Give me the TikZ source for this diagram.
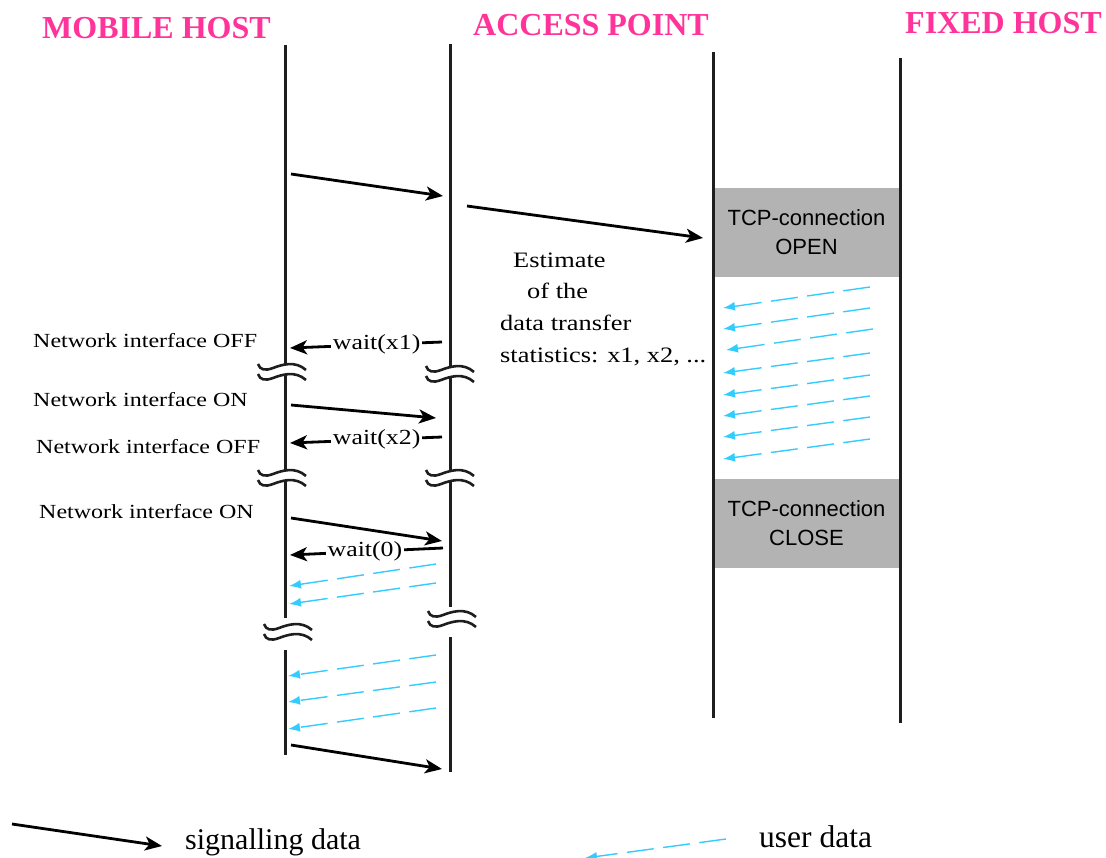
\documentclass[tikz,border=0pt]{standalone}
\usepackage{fontspec}
\setmainfont{Liberation Serif}
\newfontfamily\lblfont[FakeStretch=1.2]{Liberation Serif}
\newfontfamily\hdrfont{Liberation Serif}
\newfontfamily\tcpfont{Liberation Sans}
\usetikzlibrary{arrows.meta}
\definecolor{hdrpink}{RGB}{255,51,153}
\definecolor{usercyan}{RGB}{51,204,255}
\definecolor{boxgray}{RGB}{179,179,179}
\definecolor{lifeclr}{RGB}{30,30,30}
\tikzset{
  brk/.pic={
    \draw[line width=2.6pt,lifeclr] (-27,-6) .. controls (-25,0) and (-20,1) .. (-12,-2) .. controls (-4,-5) and (10,-10) .. (21,0);
    \draw[line width=2.6pt,lifeclr] (-27,4) .. controls (-25,10) and (-20,11) .. (-12,8) .. controls (-4,5) and (10,0) .. (21,10);
  }
}
\begin{document}
\begin{tikzpicture}[x=1pt,y=-1pt,
  life/.style={line width=3pt, lifeclr},
  sig/.style={line width=2.8pt, black, -{Stealth[length=17pt,width=14pt,inset=4.5pt]}},
  usr/.style={usercyan, line width=1.4pt, dash pattern=on 27pt off 9.5pt, -{Latex[length=12pt,width=9pt]}},
  hdr/.style={font=\hdrfont\bfseries\fontsize{32}{36}\selectfont, text=hdrpink, inner sep=0pt, anchor=base west},
  lbl/.style={font=\lblfont\fontsize{20}{24}\selectfont, inner sep=0pt, anchor=base west},
  estlbl/.style={font=\lblfont\fontsize{22}{26}\selectfont, inner sep=0pt, anchor=base west},
  waitlbl/.style={font=\lblfont\fontsize{21.5}{24}\selectfont, fill=white, inner sep=1.5pt},
  tcpbox/.style={fill=boxgray, minimum width=187pt, minimum height=89pt, inner sep=0pt, align=center, font=\tcpfont\fontsize{22}{29}\selectfont},
  legtxt/.style={inner sep=0pt, anchor=base west},
]
\useasboundingbox (0,0) rectangle (1106,857);
\clip (0,0) rectangle (1106,857);

% headers
\node[hdr] (hmh) at (42,38) {MOBILE HOST};
\node[hdr] (hap) at (473,35) {ACCESS POINT};
\node[hdr] (hfh) at (905,33) {FIXED HOST};

% gray boxes
\node[tcpbox] (open) at (806.5,232.5) {TCP-connection\\OPEN};
\node[tcpbox] (close) at (806.5,523.5) {TCP-connection\\CLOSE};

% lifelines
\draw[life] (285,45) -- (285,364.5);
\draw[life] (285,374.5) -- (285,470.5);
\draw[life] (285,480.5) -- (285,618);
\draw[life] (285,650) -- (285,755);
\draw[life] (450,44) -- (450,366.5);
\draw[life] (450,376.5) -- (450,470.5);
\draw[life] (450,480.5) -- (450,607);
\draw[life] (450,637) -- (450,772);
\draw[life] (713,52) -- (713,718);
\draw[life] (900,58) -- (900,723);

% breaks
\pic at (285,370) {brk};
\pic at (285,476) {brk};
\pic at (291,630) {brk};
\pic at (453,372) {brk};
\pic at (453,476) {brk};
\pic at (455,617) {brk};

% left labels
\node[lbl] (l1) at (33,347) {Network interface OFF};
\node[lbl] (l2) at (33,406) {Network interface ON};
\node[lbl] (l3) at (36,453) {Network interface OFF};
\node[lbl] (l4) at (39,518) {Network interface ON};

% estimate text
\node[estlbl] (e1) at (513,267) {Estimate};
\node[estlbl] (e2) at (527,298) {of the};
\node[estlbl] (e3) at (500,330) {data transfer};
\node[estlbl] (e4) at (500,362) {statistics: x1, x2, ...};

% signalling endpoints
\coordinate (s1a) at (291,174); \coordinate (s1b) at (443,196);
\coordinate (s2a) at (467,206); \coordinate (s2b) at (703,238);
\coordinate (w1a) at (442,342); \coordinate (w1b) at (290,348);
\coordinate (s3a) at (291,405); \coordinate (s3b) at (436,418);
\coordinate (w2a) at (442,437); \coordinate (w2b) at (290,443);
\coordinate (s4a) at (291,518); \coordinate (s4b) at (442,541);
\coordinate (w3a) at (443,548); \coordinate (w3b) at (290,555);
\coordinate (s5a) at (291,745); \coordinate (s5b) at (442,769);
\coordinate (lga) at (12,824); \coordinate (lgb) at (162,846);

\draw[sig] (s1a) -- (s1b);
\draw[sig] (s2a) -- (s2b);
\draw[sig] (w1a) -- node[waitlbl,pos=0.43] (wl1) {wait(x1)} (w1b);
\draw[sig] (s3a) -- (s3b);
\draw[sig] (w2a) -- node[waitlbl,pos=0.43] (wl2) {wait(x2)} (w2b);
\draw[sig] (s4a) -- (s4b);
\draw[sig] (w3a) -- node[waitlbl,pos=0.51] (wl3) {wait(0)} (w3b);
\draw[sig] (s5a) -- (s5b);
\draw[sig] (lga) -- (lgb);

% user data between MH and AP
\coordinate (u1a) at (436,564); \coordinate (u1b) at (289,586);
\coordinate (u2a) at (436,583); \coordinate (u2b) at (289,604);
\coordinate (u3a) at (436,655); \coordinate (u3b) at (288,676);
\coordinate (u4a) at (436,682); \coordinate (u4b) at (288,702);
\coordinate (u5a) at (436,708); \coordinate (u5b) at (288,729);
\foreach \i in {1,...,5} {\draw[usr] (u\i a) -- (u\i b);}

% user data between fixed host lines
\coordinate (f1a) at (870,287); \coordinate (f1b) at (723,308);
\coordinate (f2a) at (870,308); \coordinate (f2b) at (723,329);
\coordinate (f3a) at (873,329); \coordinate (f3b) at (726,350);
\coordinate (f4a) at (870,353); \coordinate (f4b) at (723,373);
\coordinate (f5a) at (870,375); \coordinate (f5b) at (723,395);
\coordinate (f6a) at (870,396); \coordinate (f6b) at (723,416);
\coordinate (f7a) at (870,417); \coordinate (f7b) at (723,437);
\coordinate (f8a) at (870,439); \coordinate (f8b) at (723,459);
\foreach \i in {1,...,8} {\draw[usr] (f\i a) -- (f\i b);}

% legend
\node[legtxt, font=\fontsize{30}{34}\selectfont] (lsig) at (185,849) {signalling data};
\coordinate (lua) at (726,839); \coordinate (lub) at (585,858);
\draw[usr] (lua) -- (lub);
\node[legtxt, font=\fontsize{31.5}{34}\selectfont] (lusr) at (759,847) {user data};
\end{tikzpicture}
\end{document}
